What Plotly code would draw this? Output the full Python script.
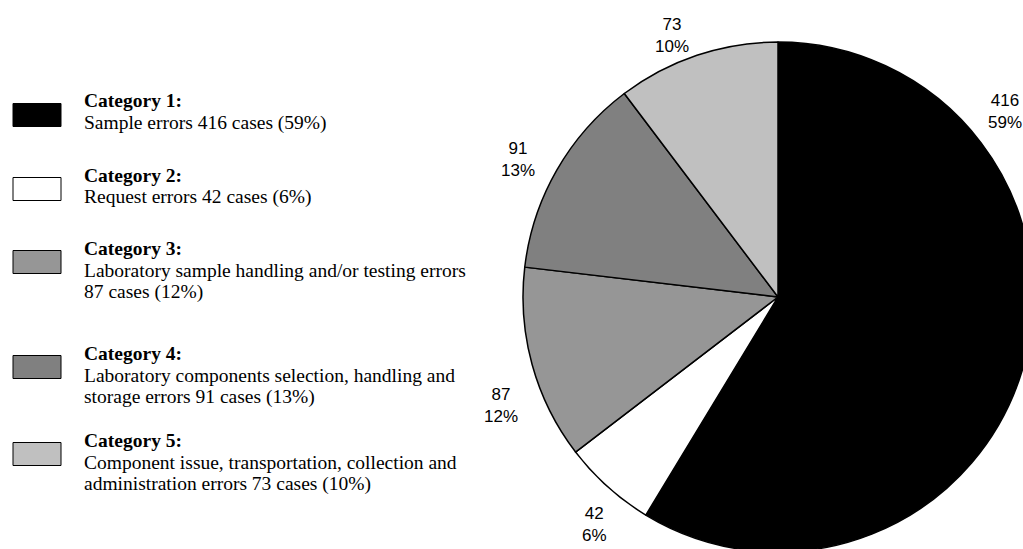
import plotly.graph_objects as go

# ---- data -------------------------------------------------------------
categories = ["Category 1", "Category 2", "Category 3", "Category 4", "Category 5"]
cases = [416, 42, 87, 91, 73]
# description lines; {n} = number of cases, {p} = rounded share
descriptions = [
    ["Sample errors {n} cases ({p}%)"],
    ["Request errors {n} cases ({p}%)"],
    ["Laboratory sample handling and/or testing errors", "{n} cases ({p}%)"],
    ["Laboratory components selection, handling and", "storage errors {n} cases ({p}%)"],
    ["Component issue, transportation, collection and",
     "administration errors {n} cases ({p}%)"],
]

# ---- styling / layout -------------------------------------------------
colors = ["#000000", "#ffffff", "#969696", "#808080", "#c0c0c0"]
W, H = 1034, 553
SERIF = "Liberation Serif, Times New Roman, serif"
SANS = "Liberation Sans, Arial, sans-serif"

pie_cx, pie_cy, pie_r = 778, 297, 255          # pixel centre / radius of the pie
legend_title_tops = [94, 168, 241, 346, 433]   # pixel top of each legend block
line_step = 22
text_x = 82
swatch_x0, swatch_x1, swatch_h = 13, 61, 23
label_pos = [(1005, 112), (594, 524), (501, 405), (518, 159), (672, 35)]


def px(x):
    return x / W


def py(y):
    return 1 - y / H


total = sum(cases)
shares = [round(100 * n / total) for n in cases]

fig = go.Figure()
fig.add_trace(go.Pie(
    labels=categories,
    values=cases,
    sort=False,
    direction="clockwise",
    rotation=0,
    textinfo="none",
    showlegend=False,
    hoverinfo="label+value+percent",
    marker=dict(colors=colors, line=dict(color="black", width=1.5)),
    domain=dict(x=[px(pie_cx - pie_r), px(pie_cx + pie_r)],
                y=[py(pie_cy + pie_r), py(pie_cy - pie_r)]),
))

annotations = []
shapes = []
for i, cat in enumerate(categories):
    top = legend_title_tops[i]
    lines = ["<b>%s:</b>" % cat] + [s.format(n=cases[i], p=shares[i]) for s in descriptions[i]]
    for j, line in enumerate(lines):
        annotations.append(dict(
            x=px(text_x), y=py(top + 7 + j * line_step), xref="paper", yref="paper",
            xanchor="left", yanchor="middle", showarrow=False, text=line,
            font=dict(family=SERIF, size=19.5, color="black"),
        ))
    sc = top + 21
    shapes.append(dict(
        type="rect", xref="paper", yref="paper",
        x0=px(swatch_x0), x1=px(swatch_x1),
        y0=py(sc + swatch_h / 2), y1=py(sc - swatch_h / 2),
        fillcolor=colors[i], line=dict(color="black", width=1),
    ))

# value / percentage labels around the pie
for i, (lx, ly) in enumerate(label_pos):
    annotations.append(dict(
        x=px(lx), y=py(ly), xref="paper", yref="paper",
        xanchor="center", yanchor="middle", showarrow=False,
        text="%d<br>%d%%" % (cases[i], shares[i]),
        font=dict(family=SANS, size=17, color="black"),
    ))

fig.update_layout(
    width=W, height=H, autosize=False,
    margin=dict(l=0, r=0, t=0, b=0),
    paper_bgcolor="white", plot_bgcolor="white",
    annotations=annotations, shapes=shapes,
)

fig.write_html("out.html")
